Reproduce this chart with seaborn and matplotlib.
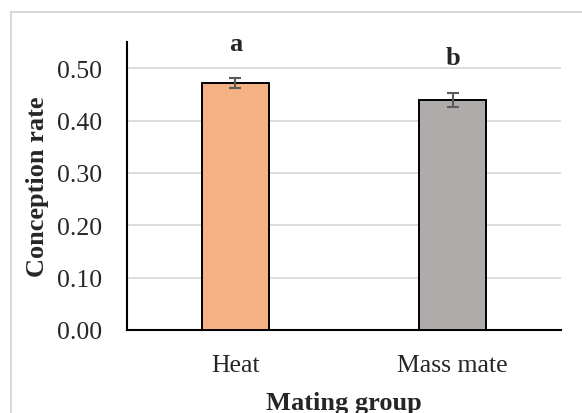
import matplotlib
matplotlib.use("Agg")
import matplotlib.pyplot as plt
from matplotlib.patches import Rectangle
import pandas as pd
import seaborn as sns

groups = ["Heat", "Mass mate"]
rates = [0.472, 0.439]
errors = [0.009, 0.014]
letters = ["a", "b"]
bar_colors = ["#F4B183", "#AFABAB"]
yticks = [0.0, 0.1, 0.2, 0.3, 0.4, 0.5]

sns.set_style("white")
plt.rcParams["font.family"] = ["Liberation Serif", "DejaVu Serif"]

df = pd.DataFrame({"group": groups, "rate": rates})

fig = plt.figure(figsize=(5.82, 4.14), dpi=100)
ax = fig.add_axes([0.218, 0.2005, 0.746, 0.6955])

sns.barplot(data=df, x="group", y="rate", hue="group", palette=bar_colors,
            saturation=1, width=0.31, edgecolor="black", linewidth=1.4,
            legend=False, ax=ax, zorder=3)
ax.errorbar(range(len(groups)), rates, yerr=errors, fmt="none",
            ecolor="#5a5a5a", elinewidth=1.5, capsize=4, capthick=1.5, zorder=4)

for i, (r, e, lab) in enumerate(zip(rates, errors, letters)):
    ax.text(i, r + e + 0.045, lab, ha="center", va="bottom",
            fontsize=19, fontweight="bold")

ax.set_ylim(0, 0.55)
ax.set_xlim(-0.5, 1.5)
ax.set_yticks(yticks)
ax.set_yticklabels([f"{v:.2f}" for v in yticks], fontsize=18.5)
ax.yaxis.grid(True, color="#D9D9D9", linewidth=1.3, zorder=0)
ax.set_axisbelow(True)

# category boundary ticks, labels centered under bars
ax.set_xticks([-0.5, 0.5, 1.5])
ax.set_xticklabels(["", "", ""])
ax.set_xticks([0, 1], minor=True)
ax.set_xticklabels(groups, minor=True, fontsize=18.5)
ax.tick_params(axis="x", which="major", length=7, width=1.5, direction="out",
               color="black")
ax.tick_params(axis="x", which="minor", length=0, pad=17)
ax.tick_params(axis="y", length=7, width=1.5, direction="out", color="black",
               pad=11)

for side in ["top", "right"]:
    ax.spines[side].set_visible(False)
for side in ["left", "bottom"]:
    ax.spines[side].set_color("black")
    ax.spines[side].set_linewidth(1.5)

ax.set_xlabel("Mating group", fontsize=19, fontweight="bold", labelpad=11)
ax.set_ylabel("Conception rate", fontsize=19, fontweight="bold")
ax.yaxis.set_label_coords(-0.18, 0.5)

# chart area border
fig.patches.append(Rectangle((11 / 582, -0.05), 1.0, 1 - 13 / 414 + 0.05,
                             transform=fig.transFigure, fill=False,
                             edgecolor="#D9D9D9", linewidth=1.5))

fig.savefig("out.png", dpi=100)
